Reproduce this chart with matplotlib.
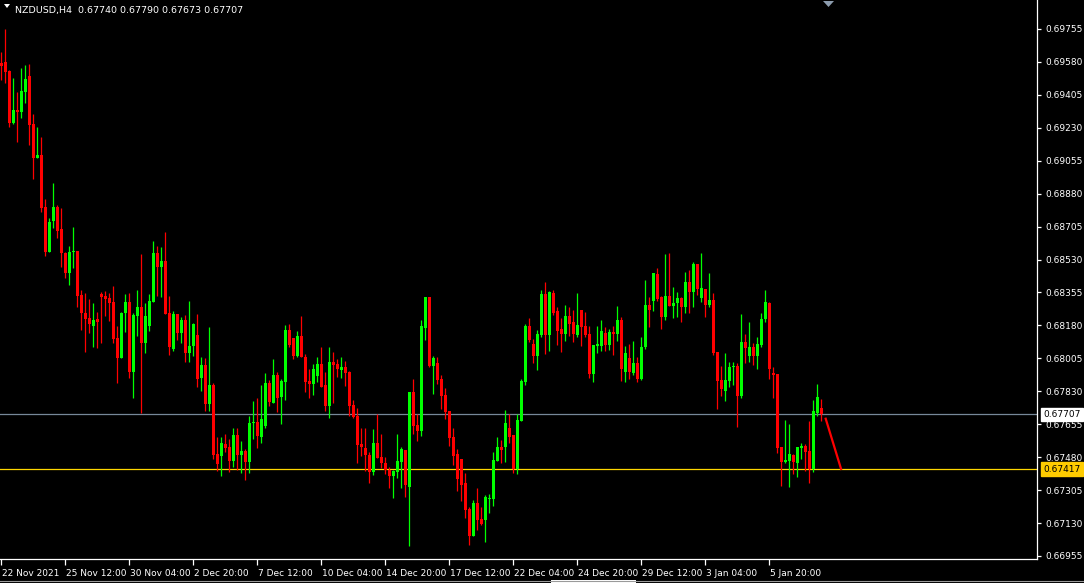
import numpy as np
import matplotlib
matplotlib.use("Agg")
import matplotlib.pyplot as plt
from matplotlib.patches import Polygon, Rectangle
from matplotlib.lines import Line2D
from matplotlib.transforms import ScaledTranslation, blended_transform_factory

# NZDUSD H4 candles (bar index 0 = 22 Nov 20:00)
opens = [0.69573, 0.69578, 0.69532, 0.69258, 0.69325, 0.69316, 0.69422, 0.69505, 0.69250, 0.69072,
         0.69086, 0.68810, 0.68572, 0.68735, 0.68810, 0.68693, 0.68567, 0.68461, 0.68572, 0.68577,
         0.68342, 0.68245, 0.68218, 0.68179, 0.68214, 0.68347, 0.68337, 0.68326, 0.68305, 0.68112,
         0.68009, 0.68248, 0.68305, 0.67935, 0.68232, 0.68276, 0.68088, 0.68177, 0.68306, 0.68567,
         0.68492, 0.68522, 0.68248, 0.68053, 0.68241, 0.68142, 0.68209, 0.68035, 0.68071, 0.68129,
         0.67902, 0.67970, 0.67763, 0.67864, 0.67497, 0.67486, 0.67550, 0.67532, 0.67460, 0.67598,
         0.67492, 0.67515, 0.67456, 0.67660, 0.67669, 0.67589, 0.67646, 0.67876, 0.67770, 0.67917,
         0.67801, 0.67881, 0.68155, 0.68111, 0.68017, 0.68124, 0.68010, 0.67885, 0.67869, 0.67911,
         0.67975, 0.67863, 0.67752, 0.67987, 0.67975, 0.67943, 0.67961, 0.67934, 0.67757, 0.67699,
         0.67550, 0.67527, 0.67491, 0.67403, 0.67553, 0.67479, 0.67451, 0.67412, 0.67380, 0.67403,
         0.67456, 0.67518, 0.67323, 0.67824, 0.67651, 0.67621, 0.68168, 0.68329, 0.67964, 0.67978,
         0.67895, 0.67810, 0.67725, 0.67589, 0.67497, 0.67470, 0.67341, 0.67204, 0.67061, 0.67234,
         0.67151, 0.67146, 0.67258, 0.67258, 0.67461, 0.67532, 0.67536, 0.67633, 0.67598, 0.67417,
         0.67674, 0.67881, 0.68177, 0.68081, 0.68017, 0.68129, 0.68347, 0.68129, 0.68351, 0.68259,
         0.68161, 0.68135, 0.68230, 0.68197, 0.68129, 0.68262, 0.68177, 0.68135, 0.67922, 0.68071,
         0.68071, 0.68138, 0.68076, 0.68147, 0.68135, 0.68209, 0.67934, 0.68005, 0.67929, 0.67979,
         0.67894, 0.68064, 0.68289, 0.68312, 0.68453, 0.68329, 0.68227, 0.68336, 0.68283, 0.68301,
         0.68324, 0.68280, 0.68409, 0.68360, 0.68507, 0.68328, 0.68372, 0.68289, 0.68315, 0.68037,
         0.67890, 0.67834, 0.67887, 0.67958, 0.67965, 0.67807, 0.68090, 0.68018, 0.68067, 0.68018,
         0.68076, 0.68214, 0.68301, 0.67926, 0.67922, 0.67536, 0.67456, 0.67462, 0.67492, 0.67447,
         0.67531, 0.67540, 0.67515, 0.67416, 0.67717, 0.67740]
highs = [0.69635, 0.69753, 0.69535, 0.69493, 0.69422, 0.69546, 0.69564, 0.69569, 0.69304, 0.69236,
         0.69183, 0.68850, 0.68749, 0.68939, 0.68820, 0.68806, 0.68572, 0.68602, 0.68703, 0.68577,
         0.68369, 0.68351, 0.68321, 0.68298, 0.68252, 0.68360, 0.68363, 0.68351, 0.68390, 0.68177,
         0.68252, 0.68347, 0.68351, 0.68245, 0.68369, 0.68559, 0.68301, 0.68347, 0.68629, 0.68602,
         0.68598, 0.68678, 0.68336, 0.68257, 0.68241, 0.68223, 0.68235, 0.68310, 0.68191, 0.68241,
         0.68014, 0.68005, 0.68170, 0.67872, 0.67585, 0.67585, 0.67603, 0.67577, 0.67633, 0.67633,
         0.67568, 0.67523, 0.67699, 0.67779, 0.67796, 0.67864, 0.67929, 0.67890, 0.68002, 0.67934,
         0.67893, 0.68182, 0.68187, 0.68111, 0.68150, 0.68230, 0.68026, 0.67948, 0.67975, 0.68014,
         0.68067, 0.67934, 0.68067, 0.68040, 0.68000, 0.68014, 0.67993, 0.67939, 0.67784, 0.67739,
         0.67633, 0.67633, 0.67506, 0.67628, 0.67709, 0.67603, 0.67479, 0.67426, 0.67412, 0.67603,
         0.67532, 0.67518, 0.67828, 0.67893, 0.67707, 0.68208, 0.68329, 0.68329, 0.68017, 0.68010,
         0.67916, 0.67849, 0.67725, 0.67633, 0.67523, 0.67470, 0.67397, 0.67213, 0.67252, 0.67314,
         0.67213, 0.67279, 0.67284, 0.67505, 0.67585, 0.67571, 0.67730, 0.67709, 0.67598, 0.67707,
         0.67895, 0.68187, 0.68221, 0.68106, 0.68155, 0.68368, 0.68413, 0.68365, 0.68368, 0.68280,
         0.68218, 0.68289, 0.68276, 0.68262, 0.68354, 0.68262, 0.68253, 0.68177, 0.68076, 0.68177,
         0.68209, 0.68170, 0.68159, 0.68177, 0.68283, 0.68223, 0.68071, 0.68081, 0.68099, 0.68014,
         0.68117, 0.68421, 0.68329, 0.68460, 0.68483, 0.68336, 0.68560, 0.68563, 0.68383, 0.68359,
         0.68333, 0.68462, 0.68475, 0.68519, 0.68507, 0.68563, 0.68372, 0.68457, 0.68351, 0.68037,
         0.67965, 0.68032, 0.67988, 0.67984, 0.67979, 0.68241, 0.68135, 0.68200, 0.68085, 0.68117,
         0.68248, 0.68368, 0.68306, 0.67961, 0.67922, 0.67536, 0.67678, 0.67657, 0.67497, 0.67533,
         0.67557, 0.67550, 0.67674, 0.67784, 0.67869, 0.67790]
lows = [0.69484, 0.69467, 0.69236, 0.69250, 0.69157, 0.69284, 0.69360, 0.69139, 0.68956, 0.69072,
        0.68785, 0.68551, 0.68572, 0.68696, 0.68647, 0.68492, 0.68430, 0.68395, 0.68484, 0.68280,
        0.68156, 0.68041, 0.68138, 0.68067, 0.68062, 0.68089, 0.68230, 0.68206, 0.68085, 0.67876,
        0.68005, 0.68147, 0.67899, 0.67796, 0.68124, 0.67716, 0.68035, 0.68152, 0.68306, 0.68336,
        0.68333, 0.68241, 0.68023, 0.68046, 0.68103, 0.68085, 0.67987, 0.67987, 0.68018, 0.67855,
        0.67832, 0.67725, 0.67725, 0.67469, 0.67408, 0.67380, 0.67509, 0.67403, 0.67426, 0.67412,
        0.67394, 0.67359, 0.67398, 0.67575, 0.67527, 0.67554, 0.67633, 0.67752, 0.67770, 0.67722,
        0.67656, 0.67784, 0.68067, 0.68000, 0.68010, 0.68010, 0.67828, 0.67796, 0.67810, 0.67881,
        0.67854, 0.67727, 0.67690, 0.67769, 0.67904, 0.67899, 0.67858, 0.67699, 0.67686, 0.67451,
        0.67488, 0.67408, 0.67344, 0.67385, 0.67474, 0.67421, 0.67390, 0.67318, 0.67261, 0.67367,
        0.67314, 0.67266, 0.67010, 0.67601, 0.67567, 0.67594, 0.68102, 0.67957, 0.67815, 0.67868,
        0.67736, 0.67683, 0.67541, 0.67438, 0.67302, 0.67249, 0.67155, 0.67013, 0.67061, 0.67093,
        0.67119, 0.67031, 0.67185, 0.67222, 0.67461, 0.67450, 0.67456, 0.67553, 0.67397, 0.67390,
        0.67674, 0.67863, 0.68093, 0.67982, 0.67943, 0.68120, 0.68028, 0.68046, 0.68236, 0.68076,
        0.68041, 0.68099, 0.68124, 0.68094, 0.68120, 0.68071, 0.68120, 0.67899, 0.67881, 0.68035,
        0.68046, 0.68046, 0.68050, 0.68023, 0.68099, 0.67887, 0.67881, 0.67894, 0.67917, 0.67881,
        0.67890, 0.68053, 0.68170, 0.68259, 0.68312, 0.68159, 0.68209, 0.68283, 0.68218, 0.68227,
        0.68200, 0.68248, 0.68248, 0.68280, 0.68342, 0.68306, 0.68227, 0.68280, 0.68023, 0.67736,
        0.67807, 0.67780, 0.67851, 0.67864, 0.67639, 0.67793, 0.67982, 0.67988, 0.67970, 0.67949,
        0.68067, 0.68200, 0.67896, 0.67793, 0.67501, 0.67327, 0.67447, 0.67320, 0.67391, 0.67373,
        0.67469, 0.67409, 0.67345, 0.67403, 0.67701, 0.67673]
closes = [0.69560, 0.69528, 0.69258, 0.69325, 0.69316, 0.69426, 0.69488, 0.69245, 0.69072, 0.69086,
          0.68806, 0.68572, 0.68730, 0.68810, 0.68682, 0.68563, 0.68461, 0.68572, 0.68577, 0.68337,
          0.68245, 0.68216, 0.68186, 0.68209, 0.68200, 0.68333, 0.68321, 0.68301, 0.68106, 0.68009,
          0.68248, 0.68305, 0.67935, 0.68236, 0.68278, 0.68088, 0.68230, 0.68310, 0.68567, 0.68492,
          0.68522, 0.68241, 0.68067, 0.68241, 0.68142, 0.68209, 0.68035, 0.68071, 0.68188, 0.67895,
          0.67970, 0.67763, 0.67864, 0.67492, 0.67444, 0.67554, 0.67527, 0.67460, 0.67598, 0.67492,
          0.67515, 0.67456, 0.67663, 0.67669, 0.67593, 0.67683, 0.67876, 0.67775, 0.67917, 0.67796,
          0.67886, 0.68155, 0.68076, 0.68017, 0.68124, 0.68010, 0.67881, 0.67869, 0.67947, 0.67975,
          0.67854, 0.67752, 0.67987, 0.67970, 0.67947, 0.67961, 0.67929, 0.67752, 0.67695, 0.67544,
          0.67532, 0.67491, 0.67403, 0.67553, 0.67477, 0.67451, 0.67412, 0.67380, 0.67406, 0.67460,
          0.67522, 0.67332, 0.67824, 0.67647, 0.67621, 0.68177, 0.68329, 0.67964, 0.68005, 0.67890,
          0.67805, 0.67721, 0.67583, 0.67488, 0.67362, 0.67332, 0.67199, 0.67061, 0.67234, 0.67146,
          0.67125, 0.67266, 0.67265, 0.67465, 0.67532, 0.67518, 0.67660, 0.67585, 0.67417, 0.67677,
          0.67884, 0.68177, 0.68102, 0.68017, 0.68134, 0.68347, 0.68129, 0.68359, 0.68248, 0.68152,
          0.68135, 0.68230, 0.68188, 0.68135, 0.68182, 0.68170, 0.68129, 0.67922, 0.68076, 0.68081,
          0.68152, 0.68076, 0.68147, 0.68135, 0.68209, 0.67949, 0.68032, 0.67934, 0.67979, 0.67894,
          0.68064, 0.68289, 0.68262, 0.68457, 0.68319, 0.68227, 0.68336, 0.68283, 0.68298, 0.68324,
          0.68280, 0.68409, 0.68360, 0.68507, 0.68374, 0.68377, 0.68289, 0.68315, 0.68036, 0.67887,
          0.67843, 0.67890, 0.67961, 0.67965, 0.67807, 0.68094, 0.68059, 0.68067, 0.68018, 0.68082,
          0.68214, 0.68306, 0.67949, 0.67917, 0.67527, 0.67456, 0.67465, 0.67497, 0.67456, 0.67533,
          0.67540, 0.67510, 0.67416, 0.67726, 0.67802, 0.67707]

date_ticks = [0, 16, 32, 48, 64, 80, 96, 112, 128, 144, 160, 176, 192]
date_labels = ["22 Nov 2021", "25 Nov 12:00", "30 Nov 04:00", "2 Dec 20:00", "7 Dec 12:00",
               "10 Dec 04:00", "14 Dec 20:00", "17 Dec 12:00", "22 Dec 04:00", "24 Dec 20:00",
               "29 Dec 12:00", "3 Jan 04:00", "5 Jan 20:00"]
price_ticks = [0.69755, 0.69580, 0.69405, 0.69230, 0.69055, 0.68880, 0.68705, 0.68530, 0.68355,
               0.68180, 0.68005, 0.67830, 0.67655, 0.67480, 0.67305, 0.67130, 0.66955]
bid_price = 0.67707
level_price = 0.67417
trend_x = [206, 210]
trend_y = [0.67690, 0.67412]

o = np.array(opens); h = np.array(highs); l = np.array(lows); c = np.array(closes)
idx = np.arange(len(o))
up = c >= o
cols = np.where(up, "#00ff00", "#ff0000")

W, H = 1084, 583
fig = plt.figure(figsize=(W / 100, H / 100), dpi=100, facecolor="black")
ax = fig.add_axes([0, 24 / H, 1037 / W, 559 / H])
ax.set_facecolor("black")
ax.set_xlim(-0.325, 258.9)
ax.set_ylim(0.66939, 0.69909)

# horizontal lines
ax.axhline(bid_price, color="#778899", lw=0.9, zorder=1)
ax.axhline(level_price, color="#ffd700", lw=0.9, zorder=1)

# candles: wicks first, bodies on top
ax.vlines(idx, l, h, colors=cols, lw=0.9, zorder=2)
body_lo = np.minimum(o, c)
body_h = np.maximum(np.abs(c - o), 0.00005)
ax.bar(idx, body_h, bottom=body_lo, width=0.62, color=cols, lw=0, zorder=3)

# trend line
ax.plot(trend_x, trend_y, color="#ff0000", lw=1.6, zorder=4, solid_capstyle="butt")

# axes styling
for s in ["top", "left"]:
    ax.spines[s].set_visible(False)
for s in ["right", "bottom"]:
    ax.spines[s].set_color("white")
    ax.spines[s].set_linewidth(0.9)

ax.yaxis.tick_right()
ax.set_yticks(price_ticks)
ax.set_yticklabels([f"{p:.5f}" for p in price_ticks])
ax.tick_params(axis="y", colors="white", length=3, width=0.9, pad=3, labelsize=6.5)
ax.set_xticks(date_ticks)
ax.set_xticklabels(date_labels, ha="left")
ax.tick_params(axis="x", colors="white", length=4, width=0.9, pad=3, labelsize=6.5)
offset = ScaledTranslation(1 / 100, 0, fig.dpi_scale_trans)
for lab in ax.get_xticklabels():
    lab.set_transform(lab.get_transform() + offset)

# current price boxes on the scale
tr = blended_transform_factory(ax.transAxes, ax.transData)
ax.text(1.006, bid_price, f"{bid_price:.5f}", transform=tr, fontsize=6.5, color="black",
        va="center", ha="left", clip_on=False,
        bbox=dict(boxstyle="square,pad=0.25", fc="white", ec="white"))
ax.text(1.006, level_price, f"{level_price:.5f}", transform=tr, fontsize=6.5, color="black",
        va="center", ha="left", clip_on=False,
        bbox=dict(boxstyle="square,pad=0.25", fc="#ffcc00", ec="#ffcc00"))

# header
fig.patches.append(Polygon([[4 / W, 1 - 4 / H], [10 / W, 1 - 4 / H], [7 / W, 1 - 8 / H]],
                           closed=True, transform=fig.transFigure, fc="white", ec="none"))
fig.text(15 / W, 1 - 10 / H, "NZDUSD,H4  0.67740 0.67790 0.67673 0.67707", color="white",
         fontsize=6.8, va="center", ha="left")

# chart shift marker
fig.patches.append(Polygon([[823 / W, 1 - 1 / H], [834 / W, 1 - 1 / H], [828.5 / W, 1 - 7 / H]],
                           closed=True, transform=fig.transFigure, fc="#8c9cae", ec="none"))

# scrollbar strip at the bottom
fig.lines.append(Line2D([0, 1], [1 - 580.5 / H, 1 - 580.5 / H], transform=fig.transFigure,
                        color="#9a9a9a", lw=0.8))
fig.patches.append(Rectangle((551 / W, 0), 85 / W, 3 / H, transform=fig.transFigure,
                             fc="white", ec="none"))

fig.savefig("out.png", dpi=100, facecolor="black")
